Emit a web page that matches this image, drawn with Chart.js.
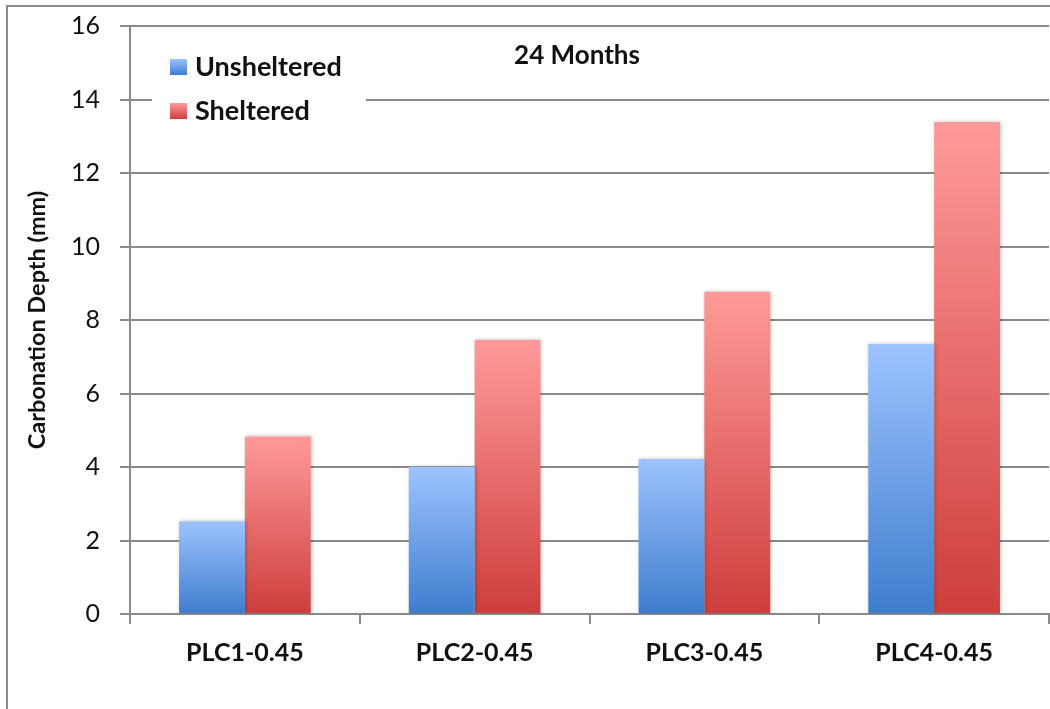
<!DOCTYPE html>
<html>
<head>
<meta charset="utf-8">
<script src="https://cdn.jsdelivr.net/npm/chart.js@4.4.1/dist/chart.umd.min.js"></script>
<style>
    html, body { margin: 0; padding: 0; background: #fff; }
    #wrap { width: 1050px; height: 709px; position: relative; }
</style>
</head>
<body>
<div id="wrap"><canvas id="myChart" width="1050" height="709"></canvas></div>
<script>
var categories = ["PLC1-0.45", "PLC2-0.45", "PLC3-0.45", "PLC4-0.45"];
var unsheltered = [2.52, 4.01, 4.22, 7.35];
var sheltered = [4.83, 7.46, 8.77, 13.39];
var yTicks = [0, 2, 4, 6, 8, 10, 12, 14, 16];
var chartTitle = "24 Months";
var seriesNames = ["Unsheltered", "Sheltered"];

var blue = ["#9dc3ff", "#3e7dcd"];
var red = ["#ff9a9a", "#cd3e3c"];
var fontFam = "Lato, 'Open Sans', sans-serif";

function barGradient(cols) {
    return function (c) {
        var chart = c.chart;
        if (!chart.chartArea || c.type !== 'data') return cols[0];
        var y = chart.scales.y;
        var top = y.getPixelForValue(c.parsed.y),
            bot = y.getPixelForValue(0);
        var g = chart.ctx.createLinearGradient(0, top, 0, bot);
        g.addColorStop(0, cols[0]);
        g.addColorStop(1, cols[1]);
        return g;
    };
}

// outer frame of the chart object
var framePlugin = {
    id: 'frame',
    beforeDraw: function (chart) {
        var ctx = chart.ctx;
        ctx.save();
        ctx.strokeStyle = "#8a8a8a";
        ctx.lineWidth = 2;
        ctx.beginPath();
        ctx.moveTo(7, 720);
        ctx.lineTo(7, 6);
        ctx.lineTo(1060, 6);
        ctx.stroke();
        ctx.restore();
    }
};

// soft shadow on the bars
var shadowPlugin = {
    id: 'shadow',
    beforeDatasetsDraw: function (chart) {
        var ctx = chart.ctx;
        ctx.save();
        ctx.shadowColor = "rgba(0,0,0,0.25)";
        ctx.shadowBlur = 4;
        ctx.shadowOffsetX = 1;
        ctx.shadowOffsetY = 0;
    },
    afterDatasetsDraw: function (chart) {
        chart.ctx.restore();
    }
};

// legend box + title inside plot area
var legendPlugin = {
    id: 'insideLegend',
    afterDraw: function (chart) {
        var ctx = chart.ctx;
        ctx.save();
        ctx.fillStyle = "#fff";
        ctx.fillRect(152, 40, 214, 88);

        var items = [[seriesNames[0], blue, 67], [seriesNames[1], red, 111]];
        items.forEach(function (it) {
            var yc = it[2];
            var g = ctx.createLinearGradient(0, yc - 8, 0, yc + 8);
            g.addColorStop(0, it[1][0]);
            g.addColorStop(1, it[1][1]);
            ctx.fillStyle = g;
            ctx.fillRect(170, yc - 8, 17, 16);
            ctx.fillStyle = "#111";
            ctx.font = "bold 27px " + fontFam;
            ctx.textAlign = "left";
            ctx.textBaseline = "middle";
            ctx.fillText(it[0], 195, yc);
        });

        ctx.font = "bold 26px " + fontFam;
        ctx.textAlign = "center";
        ctx.textBaseline = "middle";
        ctx.fillStyle = "#111";
        ctx.fillText(chartTitle, 577, 56);
        ctx.restore();
    }
};

var ctx = document.getElementById('myChart').getContext('2d');

var chart = new Chart(ctx, {
    type: 'bar',
    data: {
        labels: categories,
        datasets: [{
            label: seriesNames[0],
            data: unsheltered,
            backgroundColor: barGradient(blue),
            borderWidth: 0
        }, {
            label: seriesNames[1],
            data: sheltered,
            backgroundColor: barGradient(red),
            borderWidth: 0
        }]
    },
    options: {
        responsive: false,
        animation: false,
        layout: {padding: {left: 0, right: 1, top: 26, bottom: 0}},
        datasets: {bar: {categoryPercentage: 0.573, barPercentage: 1.0}},
        plugins: {
            legend: {display: false},
            tooltip: {enabled: false}
        },
        scales: {
            x: {
                grid: {
                    offset: true,
                    drawOnChartArea: false,
                    tickLength: 10,
                    color: "#8a8a8a",
                    lineWidth: 2
                },
                border: {color: "#8a8a8a", width: 2},
                ticks: {
                    padding: 14,
                    color: "#111",
                    font: {family: fontFam, size: 25, weight: 'bold'}
                },
                afterFit: function (s) {
                    s.height = 95;
                    s.paddingLeft = 0;
                    s.paddingRight = 0;
                }
            },
            y: {
                min: 0,
                max: 16,
                afterBuildTicks: function (s) {
                    s.ticks = yTicks.map(function (v) { return {value: v}; });
                },
                grid: {
                    color: "#8a8a8a",
                    lineWidth: 2,
                    tickLength: 10
                },
                border: {color: "#8a8a8a", width: 2},
                ticks: {
                    padding: 20,
                    color: "#111",
                    font: {family: fontFam, size: 25}
                },
                title: {
                    display: true,
                    text: "Carbonation Depth (mm)",
                    color: "#111",
                    font: {family: fontFam, size: 23.5, weight: 'bold'},
                    padding: {top: 23, bottom: 0}
                },
                afterFit: function (s) {
                    s.width = 130;
                    s.paddingTop = 0;
                    s.paddingBottom = 0;
                }
            }
        }
    },
    plugins: [framePlugin, shadowPlugin, legendPlugin]
});
</script>
</body>
</html>
